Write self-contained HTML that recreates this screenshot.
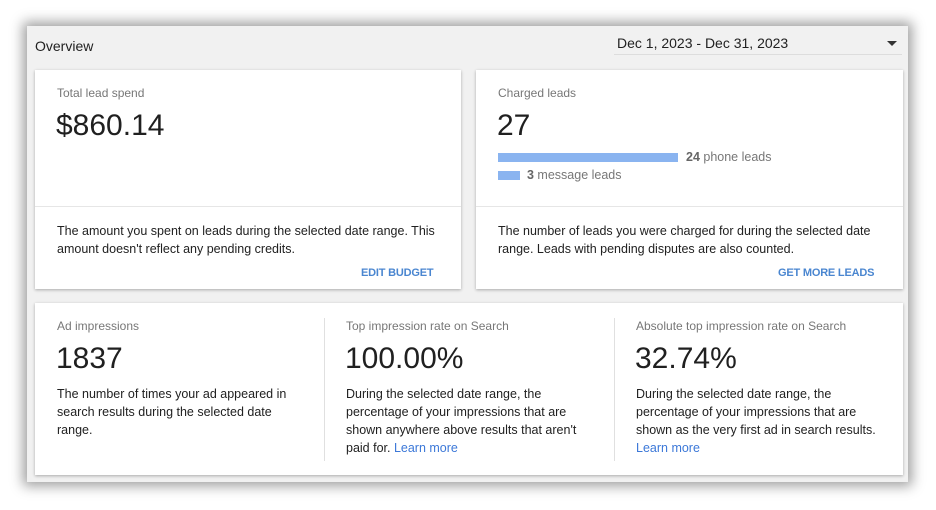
<!DOCTYPE html>
<html><head><style>
body{margin:0;width:936px;height:510px;background:#fff;position:relative;overflow:hidden;font-family:"Liberation Sans",Arial,sans-serif;color:#212121}
.panel{position:absolute;left:27px;top:26px;width:881px;height:456px;background:#f1f1f1;box-shadow:0 0 12px 4px rgba(0,0,0,0.38)}
.abs{position:absolute;white-space:nowrap}
.card{position:absolute;background:#fff;box-shadow:0 1px 3px rgba(0,0,0,0.3)}
.lbl{font-size:12px;color:#777}
.big{font-size:30px;color:#202020}
.txt{font-size:12.5px;line-height:18px;color:#212121}
.link{font-size:11px;color:#4a86d0;font-weight:bold;letter-spacing:-0.2px}
.bl{color:#3c78d8}
</style></head><body>
<div class="panel"></div>
<div class="abs" style="left:35px;top:38px;font-size:14px">Overview</div>
<div class="abs" style="left:617px;top:35px;font-size:14px">Dec 1, 2023 - Dec 31, 2023</div>
<div class="abs" style="left:614px;top:54px;width:288px;height:1px;background:#ddd"></div>
<div class="abs" style="left:887px;top:41px;width:0;height:0;border-left:5px solid transparent;border-right:5px solid transparent;border-top:5px solid #333"></div>

<div class="card" style="left:35px;top:70px;width:426px;height:219px">
<div style="position:absolute;left:0;top:136px;width:426px;height:1px;background:#e6e6e6"></div>
</div>
<div class="abs lbl" style="left:57px;top:86px">Total lead spend</div>
<div class="abs big" style="left:56px;top:109px">$860.14</div>
<div class="abs txt" style="left:57px;top:222px">The amount you spent on leads during the selected date range. This<br>amount doesn't reflect any pending credits.</div>
<div class="abs link" style="left:361px;top:267px">EDIT BUDGET</div>

<div class="card" style="left:476px;top:70px;width:427px;height:219px">
<div style="position:absolute;left:0;top:136px;width:427px;height:1px;background:#e6e6e6"></div>
</div>
<div class="abs lbl" style="left:498px;top:86px">Charged leads</div>
<div class="abs big" style="left:497px;top:109px">27</div>
<div class="abs" style="left:498px;top:153px;width:180px;height:9px;background:#8ab4f0"></div>
<div class="abs" style="left:686px;top:150px;font-size:12.5px;color:#777"><b style="color:#666">24</b> phone leads</div>
<div class="abs" style="left:498px;top:171px;width:22px;height:9px;background:#8ab4f0"></div>
<div class="abs" style="left:527px;top:168px;font-size:12.5px;color:#777"><b style="color:#666">3</b> message leads</div>
<div class="abs txt" style="left:498px;top:222px">The number of leads you were charged for during the selected date<br>range. Leads with pending disputes are also counted.</div>
<div class="abs link" style="left:778px;top:267px">GET MORE LEADS</div>

<div class="card" style="left:35px;top:303px;width:868px;height:172px">
<div style="position:absolute;left:289px;top:15px;width:1px;height:143px;background:#e0e0e0"></div>
<div style="position:absolute;left:579px;top:15px;width:1px;height:143px;background:#e0e0e0"></div>
</div>
<div class="abs lbl" style="left:57px;top:319px">Ad impressions</div>
<div class="abs big" style="left:56px;top:342px">1837</div>
<div class="abs txt" style="left:57px;top:385px">The number of times your ad appeared in<br>search results during the selected date<br>range.</div>
<div class="abs lbl" style="left:346px;top:319px">Top impression rate on Search</div>
<div class="abs big" style="left:345px;top:342px">100.00%</div>
<div class="abs txt" style="left:346px;top:385px">During the selected date range, the<br>percentage of your impressions that are<br>shown anywhere above results that aren't<br>paid for. <span class="bl">Learn more</span></div>
<div class="abs lbl" style="left:636px;top:319px">Absolute top impression rate on Search</div>
<div class="abs big" style="left:635px;top:342px">32.74%</div>
<div class="abs txt" style="left:636px;top:385px">During the selected date range, the<br>percentage of your impressions that are<br>shown as the very first ad in search results.<br><span class="bl">Learn more</span></div>
</body></html>
